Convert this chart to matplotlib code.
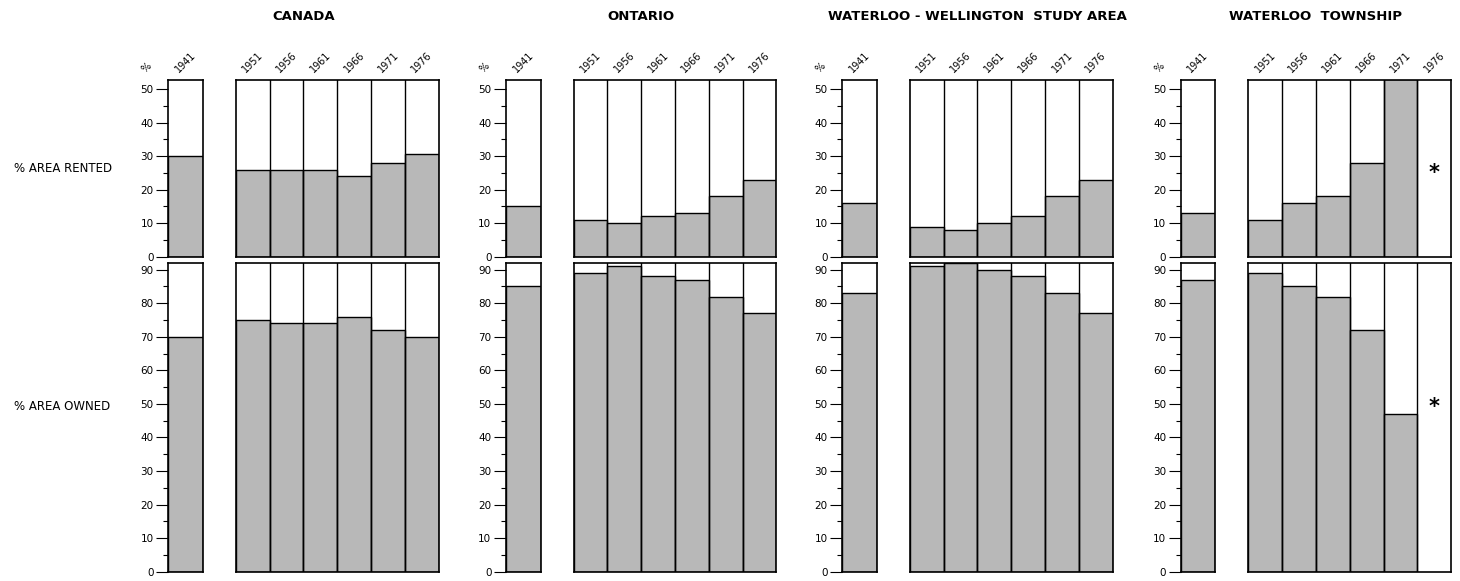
import matplotlib
matplotlib.use('Agg')
import matplotlib.pyplot as plt
import numpy as np

plt.rcParams['font.family'] = ['DejaVu Sans']

regions = ['CANADA', 'ONTARIO', 'WATERLOO - WELLINGTON  STUDY AREA', 'WATERLOO  TOWNSHIP']
years_single = ['1941']
years_multi = ['1951', '1956', '1961', '1966', '1971', '1976']

# % of farm area rented / owned, 1941 then 1951-1976 (nan = not available)
rented_1941 = [30, 15, 16, 13]
rented = [
    [26, 26, 26, 24, 28, 30.5],
    [11, 10, 12, 13, 18, 23],
    [9, 8, 10, 12, 18, 23],
    [11, 16, 18, 28, 53, np.nan],
]
owned_1941 = [70, 85, 83, 87]
owned = [
    [75, 74, 74, 76, 72, 70],
    [89, 91, 88, 87, 82, 77],
    [91, 92, 90, 88, 83, 77],
    [89, 85, 82, 72, 47, np.nan],
]
row_labels = ['% AREA RENTED', '% AREA OWNED']
missing_mark = '*'

W, H = 1460, 581
fig = plt.figure(figsize=(W / 100, H / 100), dpi=100)
fill = '#b8b8b8'

# panel geometry in pixels
x_starts = [168.3, 506, 842.3, 1180.7]
single_w, gap, multi_w = 34.5, 33, 203
rows = [
    dict(top=80, bottom=256.7, ymax=52.7, ticks=np.arange(0, 51, 10)),
    dict(top=263, bottom=571.7, ymax=92, ticks=np.arange(0, 91, 10)),
]


def px_axes(x, w, row):
    return fig.add_axes([x / W, (H - row['bottom']) / H, w / W,
                         (row['bottom'] - row['top']) / H])


def style(ax, row, with_ticks):
    ax.set_ylim(0, row['ymax'])
    ax.set_xticks([])
    for s in ax.spines.values():
        s.set_linewidth(1.2)
    if with_ticks:
        ax.set_yticks(row['ticks'])
        ax.set_yticks(np.arange(5, row['ymax'], 10), minor=True)
        ax.tick_params(axis='y', which='major', length=8.5, width=0.8, pad=2, labelsize=7.5)
        ax.tick_params(axis='y', which='minor', length=3.5, width=0.8)
    else:
        ax.set_yticks([])


for i, name in enumerate(regions):
    x0 = x_starts[i]
    fig.text((x0 + (single_w + gap + multi_w) / 2) / W, 1 - 17 / H, name,
             ha='center', va='center', fontsize=9.5, fontweight='bold')
    for r, row in enumerate(rows):
        v1941 = rented_1941[i] if r == 0 else owned_1941[i]
        vals = rented[i] if r == 0 else owned[i]

        ax1 = px_axes(x0, single_w, row)
        ax1.bar([0], [v1941], width=1, color=fill, edgecolor='black', linewidth=1)
        ax1.set_xlim(-0.5, 0.5)
        style(ax1, row, True)

        ax2 = px_axes(x0 + single_w + gap, multi_w, row)
        xs = np.arange(len(years_multi))
        ax2.bar(xs, vals, width=1, color=fill, edgecolor='black', linewidth=1)
        for k in xs[:-1]:
            ax2.axvline(k + 0.5, color='black', linewidth=1)
        ax2.set_xlim(-0.5, len(years_multi) - 0.5)
        style(ax2, row, False)
        for k, v in enumerate(vals):
            if np.isnan(v):
                ax2.text(k, 25 if r == 0 else 49, missing_mark, ha='center', va='center',
                         fontsize=15, fontweight='bold')

        if r == 0:
            ax1.text(0, 1.03, years_single[0], transform=ax1.get_xaxis_transform(),
                     rotation=45, ha='center', va='bottom', fontsize=7)
            ax1.text(-0.62, 1.03, '%', transform=ax1.transAxes, rotation=45,
                     ha='center', va='bottom', fontsize=7)
            for k, yr in enumerate(years_multi):
                ax2.text(k, 1.03, yr, transform=ax2.get_xaxis_transform(),
                         rotation=45, ha='center', va='bottom', fontsize=7)

fig.text(14 / W, 1 - 168 / H, row_labels[0], ha='left', va='center', fontsize=8.5)
fig.text(14 / W, 1 - 407 / H, row_labels[1], ha='left', va='center', fontsize=8.5)

fig.savefig('out.png', dpi=100)
